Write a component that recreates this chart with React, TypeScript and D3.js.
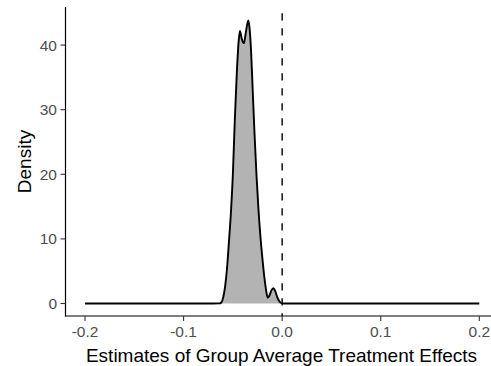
import React from "react";
import * as d3 from "d3";

const densityX = [
  -0.2, -0.07, -0.0635, -0.062, -0.06, -0.058, -0.056, -0.054, -0.052, -0.05, -0.048, -0.046, -0.044,
  -0.0428, -0.041, -0.0388, -0.037, -0.0344, -0.033, -0.0315, -0.03, -0.028, -0.026, -0.024, -0.022,
  -0.02, -0.018, -0.016, -0.0147, -0.013, -0.011, -0.009, -0.007, -0.005, -0.003, -0.001, 0.0, 0.002, 0.2,
];
const densityY = [
  0, 0, 0.02, 0.1, 0.8, 2.5, 5.3, 9.5, 14, 20, 28.5, 35.7, 40.8,
  42.2, 41.0, 40.3, 41.8, 43.8, 42.5, 39.0, 33.5, 26.2, 19.8, 14.5, 10.3,
  6.9, 4.0, 1.8, 0.9, 1.2, 2.0, 2.35, 1.9, 1.0, 0.4, 0.08, 0.02, 0, 0,
];
const xTicks = [-0.2, -0.1, 0.0, 0.1, 0.2];
const xTickLabels = ["-0.2", "-0.1", "0.0", "0.1", "0.2"];
const yTicks = [0, 10, 20, 30, 40];
const refLineX = 0;

export default function App() {
  const W = 491;
  const H = 366;
  const panelLeft = 65.5;
  const panelTop = 7;
  const panelBottom = 316;
  const x = d3.scaleLinear().domain([-0.2, 0.2]).range([85, 479.3]);
  const y = d3.scaleLinear().domain([0, 40]).range([303.5, 45.1]);
  const pts: [number, number][] = densityX.map((d, i) => [d, densityY[i]]);
  const line = d3
    .line<[number, number]>()
    .x((d) => x(d[0]))
    .y((d) => y(d[1]))
    .curve(d3.curveMonotoneX);
  const area = d3
    .area<[number, number]>()
    .x((d) => x(d[0]))
    .y0(y(0))
    .y1((d) => y(d[1]))
    .curve(d3.curveMonotoneX);
  const font = "'Liberation Sans', Arial, sans-serif";
  return (
    <svg
      width={W}
      height={H}
      style={{ position: "absolute", left: 0, top: 0, display: "block", background: "#fff" }}
    >
      <path d={area(pts) || ""} fill="#b3b3b3" stroke="none" />
      <path d={line(pts) || ""} fill="none" stroke="#000" strokeWidth={1.9} strokeLinejoin="round" />
      <line
        x1={x(refLineX)}
        x2={x(refLineX)}
        y1={panelTop}
        y2={panelBottom}
        stroke="#000"
        strokeWidth={1.4}
        strokeDasharray="7.3 7.7"
        strokeDashoffset={8.7}
      />
      {/* axes */}
      <line x1={panelLeft} x2={panelLeft} y1={panelTop} y2={panelBottom + 0.6} stroke="#000" strokeWidth={1.2} />
      <line x1={panelLeft - 0.6} x2={W} y1={panelBottom} y2={panelBottom} stroke="#000" strokeWidth={1.2} />
      {yTicks.map((t) => (
        <g key={"y" + t}>
          <line x1={panelLeft - 5} x2={panelLeft} y1={y(t)} y2={y(t)} stroke="#333" strokeWidth={1.1} />
          <text
            x={57}
            y={y(t)}
            dy="0.36em"
            textAnchor="end"
            fontFamily={font}
            fontSize={15.5}
            fill="#4d4d4d"
          >
            {t}
          </text>
        </g>
      ))}
      {xTicks.map((t, i) => (
        <g key={"x" + t}>
          <line x1={x(t)} x2={x(t)} y1={panelBottom} y2={panelBottom + 5} stroke="#333" strokeWidth={1.1} />
          <text x={x(t)} y={337} textAnchor="middle" fontFamily={font} fontSize={15.5} fill="#4d4d4d">
            {xTickLabels[i]}
          </text>
        </g>
      ))}
      <text x={281.5} y={361.5} textAnchor="middle" fontFamily={font} fontSize={19} fill="#000">
        Estimates of Group Average Treatment Effects
      </text>
      <text
        transform={`translate(31, ${(panelTop + panelBottom) / 2}) rotate(-90)`}
        textAnchor="middle"
        fontFamily={font}
        fontSize={19}
        fill="#000"
      >
        Density
      </text>
    </svg>
  );
}
